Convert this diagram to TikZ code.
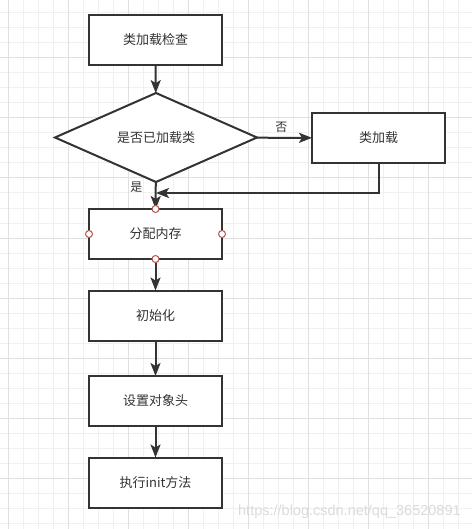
\documentclass[tikz,border=0pt]{standalone}
\usepackage{fontspec}
\newfontfamily\cjk{Noto Sans CJK SC}
\setmainfont{Liberation Sans}
\usetikzlibrary{shapes.geometric,arrows.meta}
\definecolor{ink}{HTML}{333333}
\definecolor{gridminor}{HTML}{F0F0F0}
\definecolor{gridmajor}{HTML}{E0E0E0}
\definecolor{pin}{HTML}{B85450}
\tikzset{
  stepbox/.style={draw=ink, line width=2pt, fill=white, minimum width=133pt, minimum height=50pt, inner sep=0pt},
  choice/.style={draw=ink, line width=2pt, fill=white, diamond, aspect=2.27, minimum width=202pt, minimum height=89pt, inner sep=0pt},
  flow/.style={draw=ink, line width=2pt, -{Stealth[length=13pt,width=10pt,inset=3pt]}},
  pinmark/.style={circle, draw=pin, fill=white, line width=1pt, minimum size=7pt, inner sep=0pt},
  tag/.style={text=ink, font=\cjk\fontsize{12}{14}\selectfont}
}
\begin{document}
\begin{tikzpicture}[x=1pt, y=-1pt, every node/.style={text=ink, font=\cjk\fontsize{13}{15}\selectfont, outer sep=0pt}]
\useasboundingbox (0,0) rectangle (472,529);
\fill[white] (0,0) rectangle (472,529);
\foreach \gx in {8,23,...,470} \draw[gridminor, line width=1pt] (\gx,0) -- (\gx,529);
\foreach \gy in {13,28,...,529} \draw[gridminor, line width=1pt] (0,\gy) -- (472,\gy);
\foreach \gx in {8,68,...,470} \draw[gridmajor, line width=1pt] (\gx,0) -- (\gx,529);
\foreach \gy in {58,118,...,529} \draw[gridmajor, line width=1pt] (0,\gy) -- (472,\gy);

\node[stepbox] (check) at (155.5,40) {类加载检查};
\node[choice] (loaded) at (156,137.5) {是否已加载类};
\node[stepbox] (load) at (378.5,138) {类加载};
\node[stepbox] (alloc) at (155.5,234) {分配内存};
\node[stepbox] (init) at (155.5,315.5) {初始化};
\node[stepbox] (header) at (155.5,401) {设置对象头};
\node[stepbox] (run) at (155.5,482.5) {执行init方法};
\coordinate (join) at (156,193);

\draw[flow] (check) -- (loaded);
\draw[flow] (loaded) -- (load) node[tag, pos=0.45, above=2pt] {否};
\draw[flow] (loaded) -- (alloc) node[tag, pos=0.2, left=10pt] {是};
\draw[flow] (load.south) |- (join);
\draw[flow] (alloc) -- (init);
\draw[flow] (init) -- (header);
\draw[flow] (header) -- (run);

\foreach \side in {north,south,east,west} \node[pinmark] at (alloc.\side) {};

\node[text=black!14, font=\fontsize{14.5}{16}\selectfont, anchor=east] (mark) at (464,512) {https://blog.csdn.net/qq\_36520891};
\end{tikzpicture}
\end{document}
